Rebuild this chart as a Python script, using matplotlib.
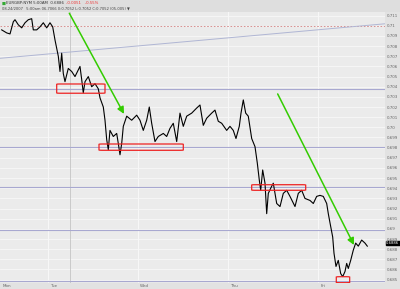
import matplotlib
matplotlib.use("Agg")
import matplotlib.pyplot as plt
from matplotlib.patches import FancyBboxPatch
import matplotlib.transforms as mtransforms
import numpy as np

# ---- data (hours since Monday 00:00, price) ----
hours = [11.65, 12.99, 13.87, 14.75, 15.2, 16.08, 16.99, 17.87, 18.75, 19.65,
         20.08, 20.99, 21.87, 22.75, 23.65, 24.53, 25.25, 25.87, 26.75, 27.2,
         27.65, 28.08, 28.53, 29.41, 30.32, 31.2, 32.53, 32.99, 33.41, 33.87,
         34.75, 35.65, 36.53, 37.41, 37.87, 38.75, 39.2, 39.65, 40.08, 40.53,
         41.41, 42.32, 42.75, 43.2, 43.65, 44.08, 44.99, 46.32, 47.65, 48.53,
         49.41, 50.32, 51.01, 51.65, 52.53, 53.41, 54.75, 55.65, 56.53, 57.41,
         58.32, 59.2, 60.08, 60.99, 62.32, 63.65, 64.53, 65.41, 66.32, 67.65,
         68.53, 69.41, 70.32, 71.65, 72.53, 73.41, 74.13, 75.01, 75.47, 76.08,
         76.72, 77.41, 78.32, 79.2, 79.81, 80.35, 80.72, 81.25, 81.87, 82.32,
         82.75, 83.65, 84.08, 84.99, 85.87, 86.75, 87.65, 88.53, 89.87, 90.75,
         91.65, 92.53, 93.87, 94.75, 95.65, 96.53, 97.41, 98.32, 98.75, 99.2,
         99.92, 100.27, 100.8, 101.41, 102.05, 102.59, 103.2, 103.65, 104.08,
         104.72, 105.41, 106.05, 106.75, 107.65, 108.53, 109.15]
prices = [0.7096, 0.7093, 0.7092, 0.7104, 0.7106, 0.7101, 0.7098, 0.7103, 0.7106, 0.7107,
          0.7096, 0.7096, 0.7099, 0.7103, 0.7098, 0.7103, 0.7099, 0.7086, 0.7070, 0.7055,
          0.7073, 0.7053, 0.7045, 0.7058, 0.7055, 0.7050, 0.7060, 0.7047, 0.7034, 0.7045,
          0.7050, 0.7040, 0.7043, 0.7038, 0.7029, 0.7020, 0.7007, 0.6988, 0.6978, 0.6997,
          0.6991, 0.6994, 0.6984, 0.6973, 0.6984, 0.7001, 0.7011, 0.7007, 0.7012, 0.7007,
          0.6997, 0.7007, 0.7020, 0.7004, 0.6986, 0.6991, 0.6994, 0.6991, 0.6999, 0.7004,
          0.6986, 0.7014, 0.7001, 0.7011, 0.7014, 0.7019, 0.7022, 0.7002, 0.7009, 0.7014,
          0.7017, 0.7006, 0.7004, 0.6997, 0.7001, 0.6997, 0.6989, 0.7001, 0.7014, 0.7027,
          0.7014, 0.7011, 0.6989, 0.6981, 0.6965, 0.6948, 0.6938, 0.6958, 0.6945, 0.6915,
          0.6935, 0.6942, 0.6945, 0.6925, 0.6922, 0.6935, 0.6938, 0.6932, 0.6922, 0.6935,
          0.6938, 0.6930, 0.6928, 0.6925, 0.6932, 0.6933, 0.6932, 0.6925, 0.6915, 0.6906,
          0.6892, 0.6876, 0.6863, 0.6869, 0.6856, 0.6853, 0.6858, 0.6866, 0.6861,
          0.6869, 0.6879, 0.6886, 0.6883, 0.6889, 0.6886, 0.6883]

day_names = ["Mon", "Tue", "Wed", "Thu", "Fri"]
day_starts = [11.2, 24, 48, 72, 96]
support_levels = [0.7038, 0.6981, 0.6941, 0.6899, 0.6849]
resistance_dashed = 0.7100
trend_line = [(11.2, 0.7068), (113.87, 0.7102)]
arrows = [((29.68, 0.71124), (44.27, 0.70132)),
          ((85.25, 0.70329), (105.6, 0.68841))]
boxes = [(26.32, 39.2, 0.70336, 0.70427),
         (37.6, 60.08, 0.69774, 0.69836),
         (78.32, 92.72, 0.6938, 0.69435),
         (100.88, 104.45, 0.6847, 0.68529)]
marker_hour = 29.87
last_price = 0.6886
yticks = [round(0.685 + 0.001 * i, 3) for i in range(27)]

# ---- figure ----
fig = plt.figure(figsize=(4.0, 2.89), dpi=100, facecolor="#e2e2e2")
ax = fig.add_axes([0.0, 6 / 289, 385 / 400, 271 / 289])
ax.set_facecolor("#ebebeb")
ax.set_xlim(11.2, 113.87)
ax.set_ylim(0.68467, 0.71136)

for s in ax.spines.values():
    s.set_visible(False)

ax.yaxis.tick_right()
ax.set_yticks(yticks)
def fmt(v):
    s = f"{v:.3f}"
    if s.endswith("0"):
        s = s[:-1]
    return s
ax.set_yticklabels([fmt(v) for v in yticks], fontsize=2.9, color="#666666")
ax.tick_params(axis="y", length=0, pad=1.5)
ax.set_xticks([])

for v in yticks:
    ax.axhline(v, color="#f7f7f7", lw=0.6, zorder=0)
for d in day_starts[1:]:
    ax.axvline(d, color="#f7f7f7", lw=0.8, zorder=0)
ax.axvline(marker_hour, color="#c4c4c4", lw=0.6, zorder=0)

for lv in support_levels:
    ax.axhline(lv, color="#a8a8d0", lw=0.8, zorder=1)
ax.axhline(resistance_dashed, color="#d08080", lw=0.6, ls=(0, (2, 2)), zorder=1)
ax.plot([p[0] for p in trend_line], [p[1] for p in trend_line], color="#b0b6d4", lw=0.7, zorder=1)

ax.plot(hours, prices, color="black", lw=0.8, zorder=3)

for (x0, y0), (x1, y1) in arrows:
    ax.annotate("", xy=(x1, y1), xytext=(x0, y0),
                arrowprops=dict(arrowstyle="-|>,head_length=0.4,head_width=0.2",
                                color="#33cc00", lw=1.1, shrinkA=0, shrinkB=0), zorder=4)

for x0, x1, y0, y1 in boxes:
    ax.add_patch(FancyBboxPatch((x0, y0), x1 - x0, y1 - y0,
                                boxstyle="round,pad=0,rounding_size=0.8",
                                mutation_aspect=0.00004,
                                fill=False, edgecolor="#ee2222", lw=0.9, zorder=5))

trans = mtransforms.blended_transform_factory(ax.transData, ax.transAxes)
for name, d in zip(day_names, day_starts):
    ax.text(d + 0.6, -0.004, name, transform=trans, fontsize=3.0, color="#666666",
            ha="left", va="top")

ax.text(1.003, last_price, "0.6886", transform=mtransforms.blended_transform_factory(ax.transAxes, ax.transData),
        fontsize=2.7, color="white", ha="left", va="center",
        bbox=dict(boxstyle="square,pad=0.1", fc="black", ec="black"), clip_on=False)

# header
fig.patches.append(plt.Rectangle((0, 1 - 12 / 289), 1, 12 / 289, transform=fig.transFigure,
                                 facecolor="#dedede", edgecolor="none", zorder=-1))
fig.text(0.005, 1 - 3.5 / 289, "\u25a0", fontsize=3.0, color="#33aa33", va="center")
fig.text(0.016, 1 - 3.5 / 289, "EURGBP:NYM 5:00AM  0.6886", fontsize=2.8, color="#333333", va="center")
fig.text(0.165, 1 - 3.5 / 289, "-0.0051   -0.55%", fontsize=2.8, color="#ee3333", va="center")
fig.text(0.005, 1 - 8.5 / 289, "08-24/2007   5:00am 06-7066 0:0.7052 L:0.7052 C:0.7052 (05-005) \u25bc",
         fontsize=2.6, color="#444444", va="center")

fig.savefig("out.png", dpi=100, facecolor=fig.get_facecolor())
